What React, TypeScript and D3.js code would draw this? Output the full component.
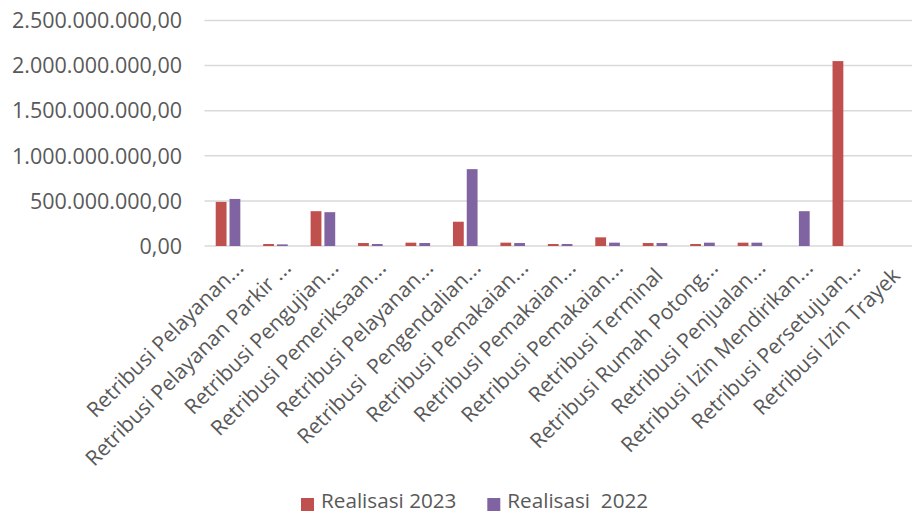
import React from "react";
import * as d3 from "d3";

const categories = [
  "Retribusi Pelayanan…",
  "Retribusi Pelayanan Parkir …",
  "Retribusi Pengujian…",
  "Retribusi Pemeriksaan…",
  "Retribusi Pelayanan…",
  "Retribusi  Pengendalian…",
  "Retribusi Pemakaian…",
  "Retribusi Pemakaian…",
  "Retribusi Pemakaian…",
  "Retribusi Terminal",
  "Retribusi Rumah Potong…",
  "Retribusi Penjualan…",
  "Retribusi Izin Mendirikan…",
  "Retribusi Persetujuan…",
  "Retribusi Izin Trayek",
];

const realisasi2023 = [
  489e6, 22e6, 386e6, 33e6, 37e6, 269e6, 37e6, 22e6, 96e6, 33e6, 22e6, 37e6, 0, 2050e6, 0,
];
const realisasi2022 = [
  522e6, 18e6, 375e6, 22e6, 33e6, 852e6, 33e6, 22e6, 37e6, 33e6, 37e6, 37e6, 386e6, 0, 0,
];

const yTicks = [0, 500e6, 1000e6, 1500e6, 2000e6, 2500e6];
const seriesNames = ["Realisasi 2023", "Realisasi  2022"];
const colors = ["#C0504D", "#8064A2"];

const W = 912;
const H = 512;
const FONT = "'Open Sans', sans-serif";
const TEXT = "#595959";

function fmt(v: number): string {
  const s = d3.format(",.2f")(v);
  return s.replace(/,/g, "#").replace(/\./g, ",").replace(/#/g, ".");
}

export default function App() {
  const x = d3.scaleBand<number>().domain(d3.range(categories.length)).range([204.3, 916]);
  const y = d3.scaleLinear().domain([0, 2500e6]).range([246, 20.5]);
  const bw = 10.8;
  const gap = 3;
  const series = [realisasi2023, realisasi2022];

  return (
    <svg
      width={W}
      height={H}
      style={{ position: "absolute", left: 0, top: 0, background: "#fff" }}
      fontFamily={FONT}
    >
      <rect x={0} y={0} width={W} height={H} fill="#fff" />
      {yTicks.map((t) => (
        <g key={t}>
          <line x1={204.5} x2={916} y1={y(t)} y2={y(t)} stroke="#d9d9d9" strokeWidth={1.5} />
          <text
            x={182}
            y={y(t)}
            dy="0.36em"
            textAnchor="end"
            fontSize={21.5}
            fill={TEXT}
          >
            {fmt(t)}
          </text>
        </g>
      ))}
      {series.map((vals, si) =>
        vals.map((v, i) => {
          if (v <= 0) return null;
          const cx = (x(i) as number) + x.bandwidth() / 2;
          const bx = si === 0 ? cx - gap / 2 - bw : cx + gap / 2;
          return (
            <rect
              key={`${si}-${i}`}
              x={bx}
              y={y(v)}
              width={bw}
              height={y(0) - y(v)}
              fill={colors[si]}
            />
          );
        })
      )}
      {categories.map((c, i) => {
        const cx = (x(i) as number) + x.bandwidth() / 2;
        const hasEll = c.endsWith("…");
        const ax = hasEll ? cx + 17 : cx + 9;
        const ay = hasEll ? 269 : 277;
        const main = hasEll ? c.slice(0, -1) : c;
        return (
          <text
            key={i}
            x={ax}
            y={ay}
            transform={`rotate(-45 ${ax} ${ay})`}
            textAnchor="end"
            fontSize={21}
            fill={TEXT}
            style={{ whiteSpace: "pre" }}
          >
            {main}
            {hasEll ? (
              <tspan textLength={18} lengthAdjust="spacingAndGlyphs">
                …
              </tspan>
            ) : null}
          </text>
        );
      })}
      {seriesNames.map((n, i) => {
        const sx = i === 0 ? 301 : 487.3;
        return (
          <g key={n}>
            <rect x={sx} y={498} width={13} height={13} fill={colors[i]} />
            <text
              x={sx + 20}
              y={508}
              fontSize={20.7}
              fill={TEXT}
              style={{ whiteSpace: "pre" }}
            >
              {n}
            </text>
          </g>
        );
      })}
    </svg>
  );
}
